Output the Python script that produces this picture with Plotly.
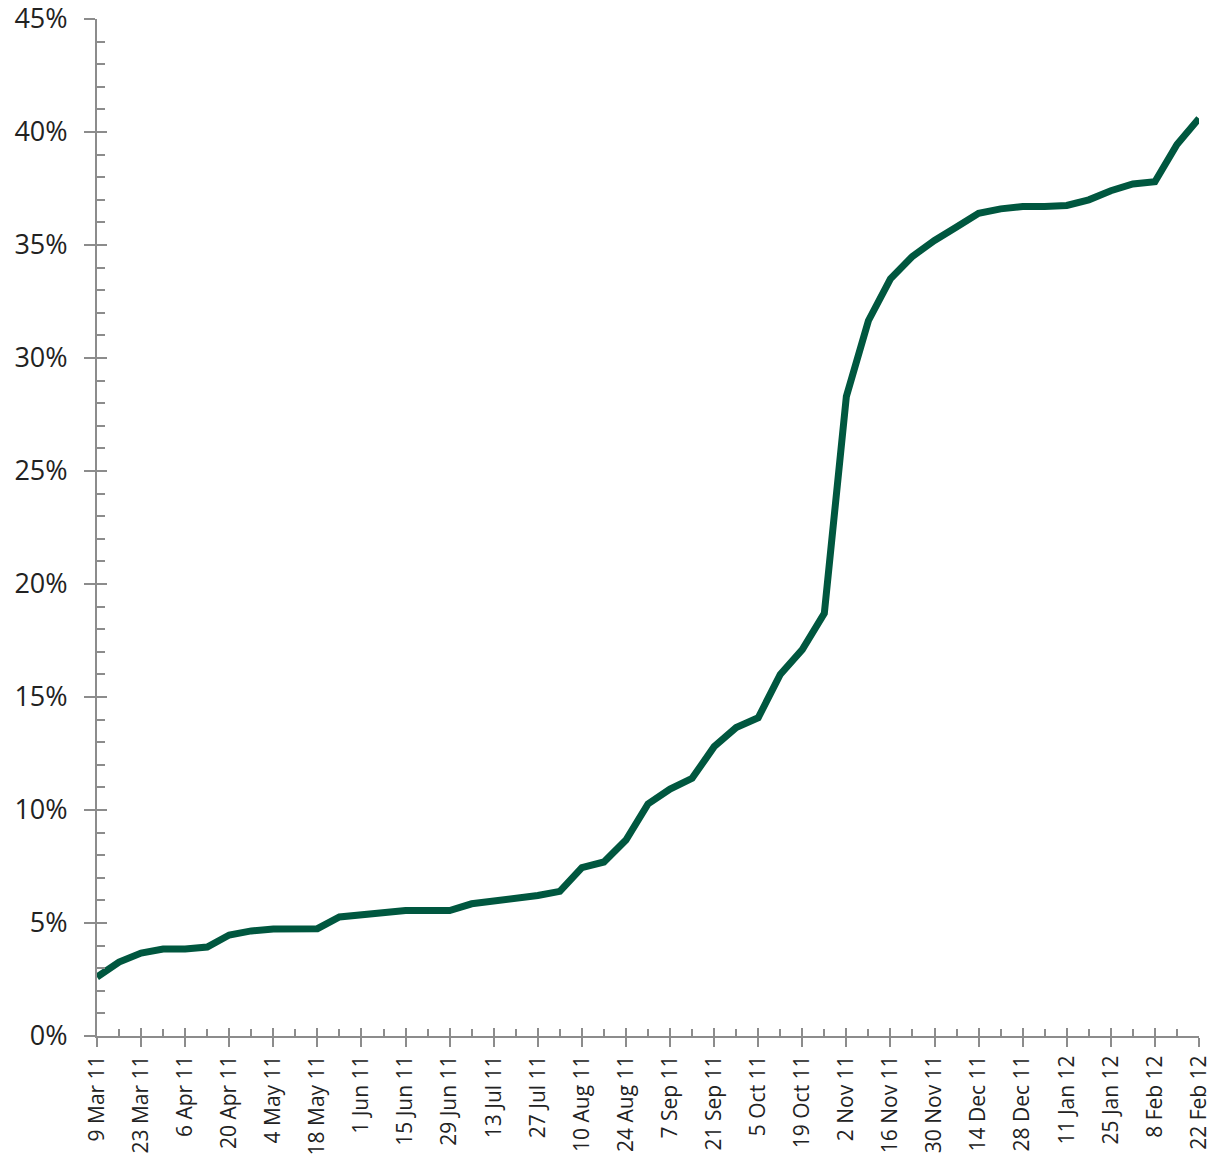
import pandas as pd
import plotly.graph_objects as go

start = "2011-03-09"
n_weeks = 51
dates = pd.date_range(start, periods=n_weeks, freq="7D")

values = [2.61, 3.27, 3.67, 3.85, 3.85, 3.94, 4.47, 4.65, 4.73, 4.74,
          4.75, 5.27, 5.37, 5.5, 5.55, 5.55, 5.55, 5.85, 5.97, 6.05,
          6.22, 6.4, 7.45, 7.7, 8.67, 10.27, 10.93, 11.4, 12.8, 13.65,
          14.08, 16.0, 17.1, 18.7, 28.3, 31.65, 33.5, 34.5, 35.2, 35.8,
          36.4, 36.6, 36.7, 36.7, 36.75, 37.0, 37.4, 37.7, 37.8, 39.45,
          40.6]

x_tick_dates = dates[::2]
x_tick_labels = [f"{d.day} {d.strftime('%b')} {d.strftime('%y')}" for d in x_tick_dates]
y_tick_vals = [0, 5, 10, 15, 20, 25, 30, 35, 40, 45]
y_tick_labels = [f"{v}%" for v in y_tick_vals]

line_color = "#00573f"
axis_color = "#8c8c8c"
xfont = dict(family="Open Sans", size=21, color="#222222")
yfont = dict(family="Open Sans", size=27, color="#222222")

fig = go.Figure()
fig.add_trace(go.Scatter(x=dates, y=values, mode="lines",
                         line=dict(color=line_color, width=7),
                         cliponaxis=False, showlegend=False))
# invisible trace on overlay axes (used for the crossing part of major ticks)
fig.add_trace(go.Scatter(x=dates, y=values, mode="lines", xaxis="x2", yaxis="y2",
                         line=dict(color="rgba(0,0,0,0)"), showlegend=False,
                         hoverinfo="skip"))

xrange = [dates[0], dates[-1]]
fig.update_layout(
    width=1217, height=1154,
    margin=dict(l=97, r=18, t=19, b=118),
    plot_bgcolor="white", paper_bgcolor="white",
    font=xfont,
    xaxis=dict(
        range=xrange, showgrid=False, zeroline=False, automargin=False,
        showline=True, linecolor=axis_color, linewidth=2,
        tickvals=list(x_tick_dates), ticktext=x_tick_labels,
        tickangle=-90, ticks="outside", ticklen=9, tickwidth=2, tickcolor=axis_color,
        ticklabeloverflow="allow",
        minor=dict(tickvals=list(dates[1::2]), ticks="inside", ticklen=7,
                   tickwidth=2, tickcolor=axis_color, showgrid=False),
        tickfont=xfont,
    ),
    xaxis2=dict(
        range=xrange, overlaying="x", showgrid=False, zeroline=False, automargin=False,
        tickvals=list(x_tick_dates), ticktext=["" for _ in x_tick_dates],
        ticks="inside", ticklen=8, tickwidth=2, tickcolor=axis_color,
        showticklabels=False, side="bottom", anchor="y",
    ),
    yaxis=dict(
        range=[0, 45], showgrid=False, zeroline=False, automargin=False,
        showline=True, linecolor=axis_color, linewidth=2,
        tickvals=y_tick_vals, ticktext=y_tick_labels,
        ticks="outside", ticklen=11, tickwidth=2, tickcolor=axis_color,
        ticklabelstandoff=11, ticklabeloverflow="allow",
        minor=dict(tickvals=[v for v in range(46) if v % 5], ticks="inside",
                   ticklen=8, tickwidth=2, tickcolor=axis_color, showgrid=False),
        tickfont=yfont,
    ),
    yaxis2=dict(
        range=[0, 45], overlaying="y", showgrid=False, zeroline=False, automargin=False,
        tickvals=y_tick_vals, ticks="inside", ticklen=10, tickwidth=2,
        tickcolor=axis_color, showticklabels=False, side="left", anchor="x",
    ),
)

fig.write_html(
    "out.html",
    config={"displayModeBar": False},
    post_script="document.body.style.margin='0px';document.body.style.overflow='hidden';",
)
